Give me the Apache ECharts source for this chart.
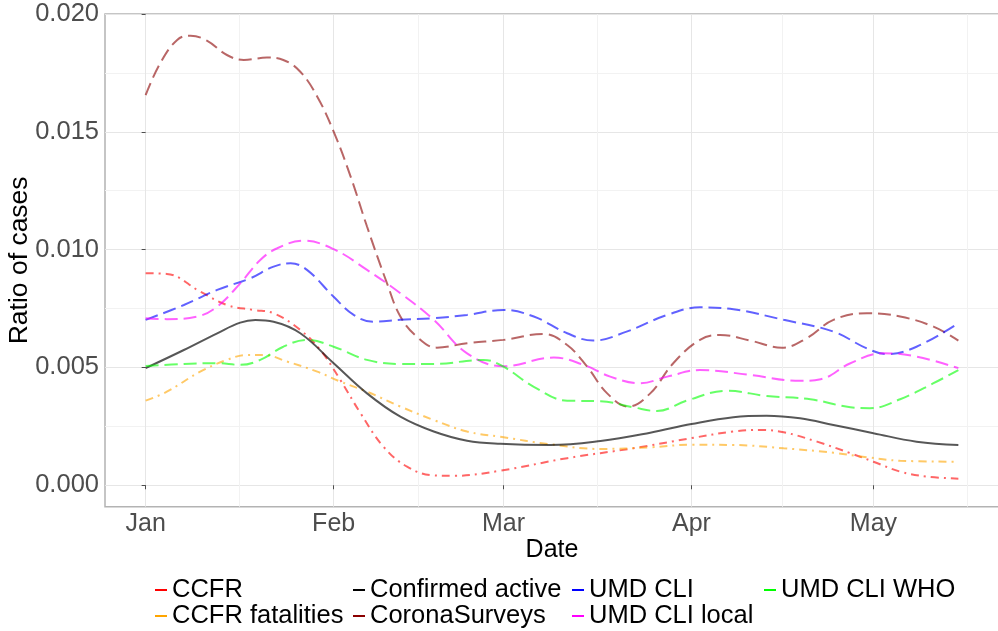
<!DOCTYPE html>
<html>
<head>
<meta charset="utf-8">
<script src="https://cdn.jsdelivr.net/npm/echarts@6/dist/echarts.min.js"></script>
<style>
html,body{margin:0;padding:0;background:#fff;}
#chart{width:998px;height:631px;}
</style>
</head>
<body>
<div id="chart"></div>
<script>
// x values: days since 2021-01-01
const monthTicks = [0, 31, 59, 90, 120];
const monthLabels = ['Jan', 'Feb', 'Mar', 'Apr', 'May'];
const minorXTicks = [15.5, 45, 74.5, 105, 135.5];
const yTicks = [0, 0.005, 0.010, 0.015, 0.020];
const minorYTicks = [0.0025, 0.0075, 0.0125, 0.0175];

const ccfrX = [0, 3.5, 9, 13.4, 17.8, 21.1, 25.5, 28.8, 32.1, 35.4, 39.2, 43.1, 47.4, 50.7, 58.5, 69.5, 80.4, 90, 96.9, 101.3, 105.2, 110.7, 116.2, 120, 124.4, 128.8, 134];
const ccfrY = [0.0090, 0.00897, 0.00822, 0.00765, 0.00744, 0.0073, 0.00659, 0.00574, 0.00447, 0.00307, 0.00164, 0.00079, 0.00042, 0.0004, 0.00062, 0.00115, 0.00157, 0.0020, 0.00228, 0.00235, 0.00225, 0.00185, 0.00136, 0.0010, 0.00058, 0.00037, 0.00028];

const ccfrFatX = [0, 3.5, 9, 13.4, 16.7, 19.5, 23.3, 28.3, 32.1, 36.5, 42, 47.5, 53, 58.5, 66.7, 75, 83.2, 90, 96.9, 105.2, 113.4, 118.9, 124.4, 134];
const ccfrFatY = [0.00359, 0.00397, 0.00482, 0.00532, 0.00553, 0.00553, 0.00525, 0.00482, 0.0044, 0.00397, 0.00334, 0.00277, 0.00228, 0.00206, 0.00174, 0.00154, 0.00161, 0.00172, 0.00171, 0.00157, 0.00138, 0.00119, 0.00104, 0.0010];

const activeX = [0, 6.3, 11.8, 15.6, 18.1, 21.1, 25.5, 31, 36.5, 42, 47.5, 53, 58.5, 66.7, 75, 83.2, 90, 96.9, 102.4, 107.9, 113.4, 120, 127.1, 134];
const activeY = [0.00497, 0.00574, 0.00645, 0.0069, 0.00701, 0.00694, 0.00645, 0.00518, 0.0039, 0.00291, 0.00228, 0.00189, 0.00176, 0.00171, 0.00188, 0.00223, 0.0026, 0.00289, 0.00295, 0.00284, 0.00256, 0.00221, 0.00185, 0.00171];

const surveysX = [0, 2.4, 5.2, 7.4, 10.1, 13.4, 16.2, 20, 22.7, 25.5, 28.3, 31, 33.8, 36.5, 39.8, 42, 44.7, 48, 53, 59, 65.6, 69.5, 72.8, 76.1, 79.6, 83.2, 87, 91.4, 94.7, 99.7, 104.9, 109, 113.4, 118.9, 124.4, 129.9, 134];
const surveysY = [0.01656, 0.01791, 0.0189, 0.01908, 0.01887, 0.01826, 0.01805, 0.01815, 0.01805, 0.01755, 0.01649, 0.01501, 0.0131, 0.01098, 0.00857, 0.00716, 0.00631, 0.00584, 0.00603, 0.00617, 0.00642, 0.00595, 0.00503, 0.0039, 0.00334, 0.0039, 0.00518, 0.00617, 0.00638, 0.00614, 0.00584, 0.00624, 0.00702, 0.0073, 0.00716, 0.00673, 0.00614];

const umdX = [0, 6.3, 11.8, 17.3, 21.1, 23.9, 26.6, 31, 34.3, 37.6, 42, 47.5, 53, 59, 64, 69.5, 73.8, 79.3, 86, 91.4, 96.9, 105.2, 113.4, 118.9, 122.2, 127.1, 134];
const umdY = [0.00702, 0.00765, 0.00829, 0.00879, 0.00928, 0.00942, 0.00914, 0.0080, 0.00723, 0.00694, 0.00702, 0.00709, 0.00723, 0.00744, 0.00716, 0.00645, 0.00614, 0.00652, 0.00723, 0.00755, 0.00747, 0.00702, 0.00652, 0.00581, 0.00557, 0.00588, 0.00688];

const umdLocalX = [0, 3.5, 8.5, 11.8, 15.6, 18.9, 21.7, 26, 31, 36.5, 42, 47.5, 53, 59, 67.3, 72.2, 76.6, 81.5, 86, 91.4, 99.7, 107.9, 111.3, 116.2, 121.6, 127.1, 134];
const umdLocalY = [0.00709, 0.00705, 0.00716, 0.00758, 0.00857, 0.00956, 0.01006, 0.01038, 0.01002, 0.00914, 0.00815, 0.00702, 0.0056, 0.00505, 0.00542, 0.00511, 0.00461, 0.00433, 0.00461, 0.00489, 0.00468, 0.00443, 0.0045, 0.00518, 0.0056, 0.00546, 0.00497];

const umdWhoX = [0, 6.3, 11.8, 15.6, 18.9, 22.7, 26.6, 31, 36.5, 42, 47.5, 55.7, 59, 64, 69.5, 75, 80.4, 84.3, 89.2, 95.8, 102.4, 109.6, 116.2, 119.4, 124.4, 129.9, 134];
const umdWhoY = [0.00506, 0.00515, 0.00518, 0.00511, 0.00532, 0.00588, 0.00617, 0.00588, 0.00532, 0.00515, 0.00515, 0.00532, 0.00503, 0.00418, 0.00359, 0.00357, 0.00331, 0.00315, 0.00359, 0.00401, 0.00379, 0.00365, 0.00331, 0.00327, 0.00365, 0.00433, 0.00489];

const FONT = "'Liberation Sans', Arial, Helvetica, sans-serif";
const LONGDASH = [13, 6];
const DOTDASH = [8, 5, 2, 5];

function pairs(xs, ys) { return xs.map((x, i) => [x, ys[i]]); }

function mkSeries(name, color, xs, ys, dash, op) {
  return {
    name: name,
    type: 'line',
    xAxisIndex: 0,
    yAxisIndex: 0,
    data: pairs(xs, ys),
    showSymbol: false,
    symbol: 'none',
    smooth: 0.4,
    color: color,
    lineStyle: { color: color, width: 2, type: dash, opacity: op },
    emphasis: { disabled: true },
    z: 3
  };
}

const series = [
  mkSeries('CCFR', '#ff0000', ccfrX, ccfrY, DOTDASH, 0.6),
  mkSeries('CCFR fatalities', '#ffa500', ccfrFatX, ccfrFatY, DOTDASH, 0.6),
  mkSeries('Confirmed active', '#000000', activeX, activeY, 'solid', 0.66),
  mkSeries('CoronaSurveys', '#8b0000', surveysX, surveysY, LONGDASH, 0.6),
  mkSeries('UMD CLI', '#0000ff', umdX, umdY, LONGDASH, 0.62),
  mkSeries('UMD CLI local', '#ff00ff', umdLocalX, umdLocalY, LONGDASH, 0.62),
  mkSeries('UMD CLI WHO', '#00ff00', umdWhoX, umdWhoY, LONGDASH, 0.6)
];

const XMIN = -6.7, XMAX = 140.7, YMIN = -0.00091, YMAX = 0.0200;

function mkLegend(left, names) {
  return {
    orient: 'vertical',
    left: left,
    top: 577,
    padding: 0,
    itemGap: 0,
    itemWidth: 12,
    itemHeight: 2,
    icon: 'rect',
    itemStyle: { borderWidth: 0 },
    selectedMode: false,
    data: names,
    textStyle: { fontFamily: FONT, fontSize: 25.5, color: '#000', lineHeight: 24 }
  };
}

const chart = echarts.init(document.getElementById('chart'), null, { renderer: 'canvas' });
chart.setOption({
  animation: false,
  backgroundColor: '#ffffff',
  grid: {
    left: 105, top: 14, width: 894, height: 492.7,
    outerBoundsMode: 'none', containLabel: false,
    show: true, borderColor: '#b3b3b3', borderWidth: 1.5, backgroundColor: 'transparent'
  },
  legend: [
    mkLegend(155, ['CCFR', 'CCFR fatalities']),
    mkLegend(353, ['Confirmed active', 'CoronaSurveys']),
    mkLegend(572, ['UMD CLI', 'UMD CLI local']),
    mkLegend(764, ['UMD CLI WHO'])
  ],
  xAxis: [
    {
      type: 'value', min: XMIN, max: XMAX, gridIndex: 0,
      name: 'Date', nameLocation: 'middle', nameGap: 31, nameMoveOverlap: false,
      nameTextStyle: { fontFamily: FONT, fontSize: 25, color: '#000' },
      axisLine: { show: false },
      axisTick: { show: true, customValues: monthTicks, length: 4, lineStyle: { color: '#4d4d4d', width: 1 } },
      axisLabel: {
        customValues: monthTicks, margin: 5,
        fontFamily: FONT, fontSize: 25, color: '#4d4d4d',
        formatter: function (v) { const i = monthTicks.indexOf(v); return i >= 0 ? monthLabels[i] : ''; }
      },
      splitLine: { show: true, lineStyle: { color: '#e6e6e6', width: 1 } }
    },
    {
      type: 'value', min: XMIN, max: XMAX, gridIndex: 0, position: 'bottom',
      axisLine: { show: false },
      axisTick: { show: false, customValues: minorXTicks },
      axisLabel: { show: false, customValues: minorXTicks },
      splitLine: { show: true, lineStyle: { color: '#f2f2f2', width: 1 } }
    }
  ],
  yAxis: [
    {
      type: 'value', min: YMIN, max: YMAX, gridIndex: 0,
      name: 'Ratio of cases', nameLocation: 'middle', nameGap: 72, nameRotate: 90, nameMoveOverlap: false,
      nameTextStyle: { fontFamily: FONT, fontSize: 26.5, color: '#000' },
      axisLine: { show: false },
      axisTick: { show: true, customValues: yTicks, length: 4, lineStyle: { color: '#4d4d4d', width: 1 } },
      axisLabel: {
        customValues: yTicks, margin: 6,
        fontFamily: FONT, fontSize: 25.5, color: '#4d4d4d',
        formatter: function (v) { return v.toFixed(3); }
      },
      splitLine: { show: true, lineStyle: { color: '#e6e6e6', width: 1 } }
    },
    {
      type: 'value', min: YMIN, max: YMAX, gridIndex: 0, position: 'left',
      axisLine: { show: false },
      axisTick: { show: false, customValues: minorYTicks },
      axisLabel: { show: false, customValues: minorYTicks },
      splitLine: { show: true, lineStyle: { color: '#f2f2f2', width: 1 } }
    }
  ],
  series: series
});
</script>
</body>
</html>
